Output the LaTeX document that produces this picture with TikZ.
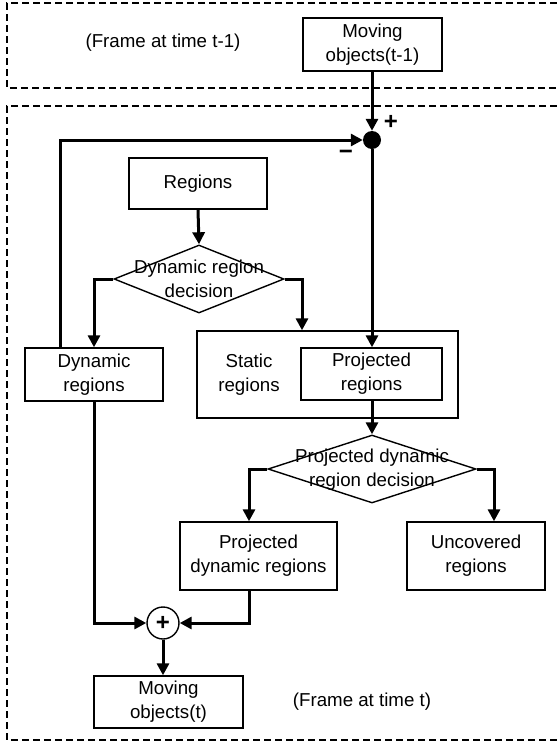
\documentclass[tikz,border=0pt]{standalone}
\usepackage{fontspec}
\setmainfont{Liberation Sans}
\usetikzlibrary{arrows.meta,shapes.geometric}
\newcommand{\lblfont}{\fontsize{18.7}{24}\selectfont}
\newcommand{\signfont}{\fontsize{24}{24}\selectfont\bfseries}
\begin{document}
\begin{tikzpicture}[x=1pt,y=-1pt,
  box/.style={draw, line width=1.4pt, inner sep=0pt, align=center, font=\lblfont},
  dia/.style={draw, line width=1.4pt, diamond, inner sep=0pt},
  lbl/.style={inner sep=0pt, align=center, font=\lblfont},
  sign/.style={inner sep=0pt, font=\signfont},
  conn/.style={line width=3pt, -{Triangle[length=12pt,width=12pt]}},
  frame/.style={line width=2.2pt, dash pattern=on 7pt off 4pt}
]
\useasboundingbox (0,0) rectangle (557,750);
% dashed frames (open on the right)
\draw[frame] (557,3) -- (7,3) -- (7,88) -- (557,88);
\draw[frame] (557,106) -- (7,106) -- (7,740) -- (557,740);
\node[lbl] (f1) at (163,43) {(Frame at time t-1)};
\node[lbl] (f2) at (362,702) {(Frame at time t)};
% nodes
\node[box, minimum width=139pt, minimum height=53pt] (mt1) at (372.5,44.5) {Moving\\objects(t-1)};
\node[circle, fill, inner sep=0pt, minimum size=18pt] (dot) at (372,140) {};
\node[sign] (plabel) at (391,122) {+};
\node[sign] (mlabel) at (346,155) {−};
\node[box, minimum width=138pt, minimum height=51pt] (regions) at (198,183.5) {Regions};
\node[dia, minimum width=170pt, minimum height=68pt] (d1) at (199,279) {};
\node[lbl] (d1t) at (199,279) {Dynamic region\\decision};
\node[box, minimum width=138pt, minimum height=53pt] (dyn) at (94,374.5) {Dynamic\\regions};
\node[box, minimum width=261pt, minimum height=87pt] (static) at (327.5,374.5) {};
\node[lbl] (statict) at (249,374.5) {Static\\regions};
\node[box, minimum width=141pt, minimum height=52pt] (proj) at (371.5,374) {Projected\\regions};
\node[dia, minimum width=208pt, minimum height=68pt] (d2) at (372,469) {};
\node[lbl] (d2t) at (372,470) {Projected dynamic\\region decision};
\node[box, minimum width=157pt, minimum height=68pt] (pdyn) at (258.5,556) {Projected\\dynamic regions};
\node[box, minimum width=138pt, minimum height=68pt] (unc) at (476,556) {Uncovered\\regions};
\node[draw, circle, line width=1.4pt, minimum size=32pt, inner sep=0pt, font=\signfont] (plus) at (163,623) {+};
\node[box, minimum width=149pt, minimum height=52pt] (mt) at (168.5,702) {Moving\\objects(t)};
% helper x positions
\coordinate (fb) at (60,0);
\coordinate (s1) at (302,0);
\coordinate (b1) at (249,0);
\coordinate (b2) at (494,0);
% connectors
\draw[conn] (mt1.south -| dot) -- (dot.north);
\draw[conn] (fb |- dyn.north) |- (dot.west);
\draw[conn] (regions.south) -- (d1.north);
\draw[conn] (d1.west) -| (dyn.north);
\draw[conn] (d1.east) -| (s1 |- static.north);
\draw[conn] (dot.south) -- (dot |- proj.north);
\draw[conn] (dot |- proj.south) -- (d2.north);
\draw[conn] (d2.west) -| (b1 |- pdyn.north);
\draw[conn] (d2.east) -| (b2 |- unc.north);
\draw[conn] (dyn.south) |- (plus.west);
\draw[conn] (b1 |- pdyn.south) |- (plus.east);
\draw[conn] (plus.south) -- (plus |- mt.north);
\end{tikzpicture}
\end{document}
